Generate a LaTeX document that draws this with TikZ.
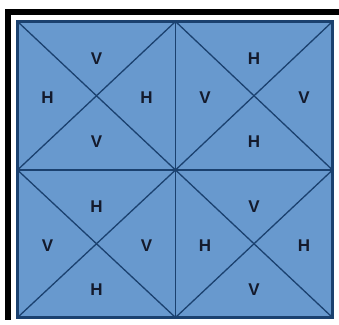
\documentclass[tikz,border=0pt]{standalone}
\usepackage{fontspec}
\setsansfont{Liberation Sans}
\usetikzlibrary{calc}
\definecolor{fieldblue}{HTML}{6899CE}
\definecolor{gridnavy}{HTML}{1B416F}
\definecolor{letterink}{HTML}{141A2C}

\begin{document}
\begin{tikzpicture}[x=1pt,y=-1pt,
  letter/.style={font=\sffamily\bfseries\fontsize{17}{17}\selectfont,text=letterink,inner sep=0pt}]

\useasboundingbox (0,0) rectangle (339,324);

% ---- black corner bands ----
\fill[black] (5,9) rectangle (339,15);
\fill[black] (5,9) rectangle (11,320);

% ---- blue field ----
\fill[fieldblue] (17.5,21.5) rectangle (332.5,317.5);

% ---- one cell: \xcell{name}{x0}{y0}{x1}{y1}{top/bottom}{left/right}
\newcommand{\xcell}[7]{
  \coordinate (#1-nw) at (#2,#3);
  \coordinate (#1-ne) at (#4,#3);
  \coordinate (#1-sw) at (#2,#5);
  \coordinate (#1-se) at (#4,#5);
  \coordinate (#1-c) at ($(#1-nw)!0.5!(#1-se)$);
  \draw[gridnavy,line width=1.3pt] (#1-nw) -- (#1-se) (#1-ne) -- (#1-sw);
  \node[letter] (#1-t) at ($(#1-c)+(0,-37)$) {#6};
  \node[letter] (#1-b) at ($(#1-c)+(0,46)$) {#6};
  \node[letter] (#1-l) at ($(#1-c)+(-49,2)$) {#7};
  \node[letter] (#1-r) at ($(#1-c)+(50,2)$) {#7};
}

\xcell{tl}{17.5}{21.5}{175.5}{170}{V}{H}
\xcell{tr}{175.5}{21.5}{332.5}{170}{H}{V}
\xcell{bl}{17.5}{170}{175.5}{317.5}{H}{V}
\xcell{br}{175.5}{170}{332.5}{317.5}{V}{H}

% ---- middle lines and frame ----
\draw[gridnavy,line width=1.5pt] (tl-ne) -- (bl-se) (tl-sw) -- (tr-se);
\draw[gridnavy,line width=3pt] (tl-nw) rectangle (br-se);

\end{tikzpicture}
\end{document}
